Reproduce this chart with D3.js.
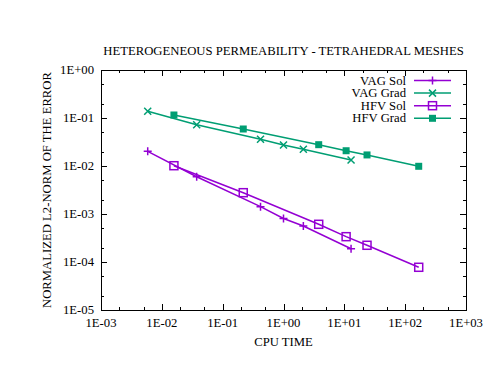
<!DOCTYPE html>
<html>
<head>
<meta charset="utf-8">
<script src="https://cdn.jsdelivr.net/npm/d3@7"></script>
<style>
  body { margin: 0; background: #fff; }
  text { font-family: "Liberation Serif", "Times New Roman", serif; fill: #000; }
</style>
</head>
<body>
<div id="chart"></div>
<script>
// values
var vagSolTime  = [0.00586, 0.0374, 0.419, 1.0, 2.12, 12.9];
var vagSolErr   = [0.0202, 0.00598, 0.00142, 0.000805, 0.000562, 0.000189];
var vagGradTime = [0.00586, 0.0374, 0.419, 1.0, 2.12, 12.9];
var vagGradErr  = [0.138, 0.0725, 0.036, 0.0274, 0.0223, 0.0133];
var hfvSolTime  = [0.0158, 0.218, 3.79, 10.7, 23.6, 167];
var hfvSolErr   = [0.01014, 0.00278, 0.00061, 0.000337, 0.000223, 0.0000776];
var hfvGradTime = [0.0158, 0.218, 3.79, 10.7, 23.6, 167];
var hfvGradErr  = [0.1155, 0.059, 0.0278, 0.0208, 0.0170, 0.00986];

var xTickLabels = ['1E-03', '1E-02', '1E-01', '1E+00', '1E+01', '1E+02', '1E+03'];
var yTickLabels = ['1E-05', '1E-04', '1E-03', '1E-02', '1E-01', '1E+00'];

var purple = '#9400d3', green = '#009e73';

var series = [
  {name: 'VAG Sol',  x: vagSolTime,  y: vagSolErr,  color: purple, mark: 'plus'},
  {name: 'VAG Grad', x: vagGradTime, y: vagGradErr, color: green,  mark: 'cross'},
  {name: 'HFV Sol',  x: hfvSolTime,  y: hfvSolErr,  color: purple, mark: 'box'},
  {name: 'HFV Grad', x: hfvGradTime, y: hfvGradErr, color: green,  mark: 'fbox'}
];

var width = 503, height = 388;
var plotL = 101, plotR = 466, plotT = 70, plotB = 310;

var svg = d3.select('#chart').append('svg')
  .attr('width', width)
  .attr('height', height);

var x = d3.scaleLog().domain([1e-3, 1e3]).range([plotL, plotR]);
var y = d3.scaleLog().domain([1e-5, 1]).range([plotB, plotT]);

// minor ticks at 2 and 5 in each decade, like the reference
function minorTicks(lo, hi) {
  var out = [];
  for (var e = lo; e < hi; e++) {
    out.push(2 * Math.pow(10, e));
    out.push(5 * Math.pow(10, e));
  }
  return out;
}
var xMajor = xTickLabels.map(function(s) { return +s; });
var yMajor = yTickLabels.map(function(s) { return +s; });
var xMinor = minorTicks(-3, 3);
var yMinor = minorTicks(-5, 0);

var axes = svg.append('g').attr('stroke', '#000').attr('stroke-width', 1);

// inward ticks on all four sides
xMajor.concat(xMinor).forEach(function(v) {
  var len = xMajor.indexOf(v) >= 0 ? 6 : 3;
  var px = Math.round(x(v)) + 0.5;
  axes.append('line').attr('x1', px).attr('x2', px).attr('y1', plotB).attr('y2', plotB - len);
  axes.append('line').attr('x1', px).attr('x2', px).attr('y1', plotT).attr('y2', plotT + len);
});
yMajor.concat(yMinor).forEach(function(v) {
  var len = yMajor.indexOf(v) >= 0 ? 6 : 3;
  var py = Math.round(y(v)) + 0.5;
  axes.append('line').attr('y1', py).attr('y2', py).attr('x1', plotL).attr('x2', plotL + len);
  axes.append('line').attr('y1', py).attr('y2', py).attr('x1', plotR).attr('x2', plotR - len);
});

axes.append('rect')
  .attr('x', plotL + 0.5).attr('y', plotT + 0.5)
  .attr('width', plotR - plotL).attr('height', plotB - plotT)
  .attr('fill', 'none');

// tick labels
svg.append('g').selectAll('text')
  .data(xTickLabels)
  .enter().append('text')
  .attr('x', function(d) { return x(+d); })
  .attr('y', 327)
  .attr('text-anchor', 'middle')
  .style('font-size', '12.7px')
  .text(function(d) { return d; });

svg.append('g').selectAll('text')
  .data(yTickLabels)
  .enter().append('text')
  .attr('x', 94)
  .attr('y', function(d) { return y(+d) + 4; })
  .attr('text-anchor', 'end')
  .style('font-size', '12.7px')
  .text(function(d) { return d; });

// titles
svg.append('text')
  .attr('x', (plotL + plotR) / 2).attr('y', 55)
  .attr('text-anchor', 'middle')
  .style('font-size', '12.7px')
  .text('HETEROGENEOUS PERMEABILITY - TETRAHEDRAL MESHES');

svg.append('text')
  .attr('x', (plotL + plotR) / 2).attr('y', 346)
  .attr('text-anchor', 'middle')
  .style('font-size', '12.7px')
  .text('CPU TIME');

svg.append('text')
  .attr('transform', 'translate(51,' + ((plotT + plotB) / 2) + ') rotate(-90)')
  .attr('text-anchor', 'middle')
  .style('font-size', '12.7px')
  .text('NORMALIZED L2-NORM OF THE ERROR');

// marker drawing
function drawMark(g, kind, color) {
  if (kind === 'plus') {
    g.append('path').attr('d', 'M-4,0H4M0,-4V4')
      .attr('stroke', color).attr('stroke-width', 1.5).attr('fill', 'none');
  } else if (kind === 'cross') {
    g.append('path').attr('d', 'M-3.5,-3.5L3.5,3.5M-3.5,3.5L3.5,-3.5')
      .attr('stroke', color).attr('stroke-width', 1.5).attr('fill', 'none');
  } else if (kind === 'box') {
    g.append('rect').attr('x', -4).attr('y', -4).attr('width', 8).attr('height', 8)
      .attr('stroke', color).attr('stroke-width', 1.5).attr('fill', 'none');
  } else {
    g.append('rect').attr('x', -3.5).attr('y', -3.5).attr('width', 7).attr('height', 7)
      .attr('fill', color);
  }
}

var line = d3.line()
  .x(function(d) { return x(d[0]); })
  .y(function(d) { return y(d[1]); });

series.forEach(function(s) {
  var pts = s.x.map(function(v, i) { return [v, s.y[i]]; });
  svg.append('path')
    .attr('d', line(pts))
    .attr('fill', 'none')
    .attr('stroke', s.color)
    .attr('stroke-width', 1.5);
  pts.forEach(function(p) {
    var g = svg.append('g').attr('transform', 'translate(' + x(p[0]) + ',' + y(p[1]) + ')');
    drawMark(g, s.mark, s.color);
  });
});

// legend
var legend = svg.selectAll('.legend')
  .data(series)
  .enter().append('g')
  .attr('class', 'legend')
  .attr('transform', function(d, i) { return 'translate(0,' + (80.5 + i * 12.6) + ')'; });

legend.append('text')
  .attr('x', 406).attr('y', 4)
  .attr('text-anchor', 'end')
  .style('font-size', '12.7px')
  .text(function(d) { return d.name; });

legend.append('line')
  .attr('x1', 414).attr('x2', 451)
  .attr('stroke', function(d) { return d.color; })
  .attr('stroke-width', 1.5);

legend.each(function(d) {
  var g = d3.select(this).append('g').attr('transform', 'translate(432.5,0)');
  drawMark(g, d.mark, d.color);
});
</script>
</body>
</html>
